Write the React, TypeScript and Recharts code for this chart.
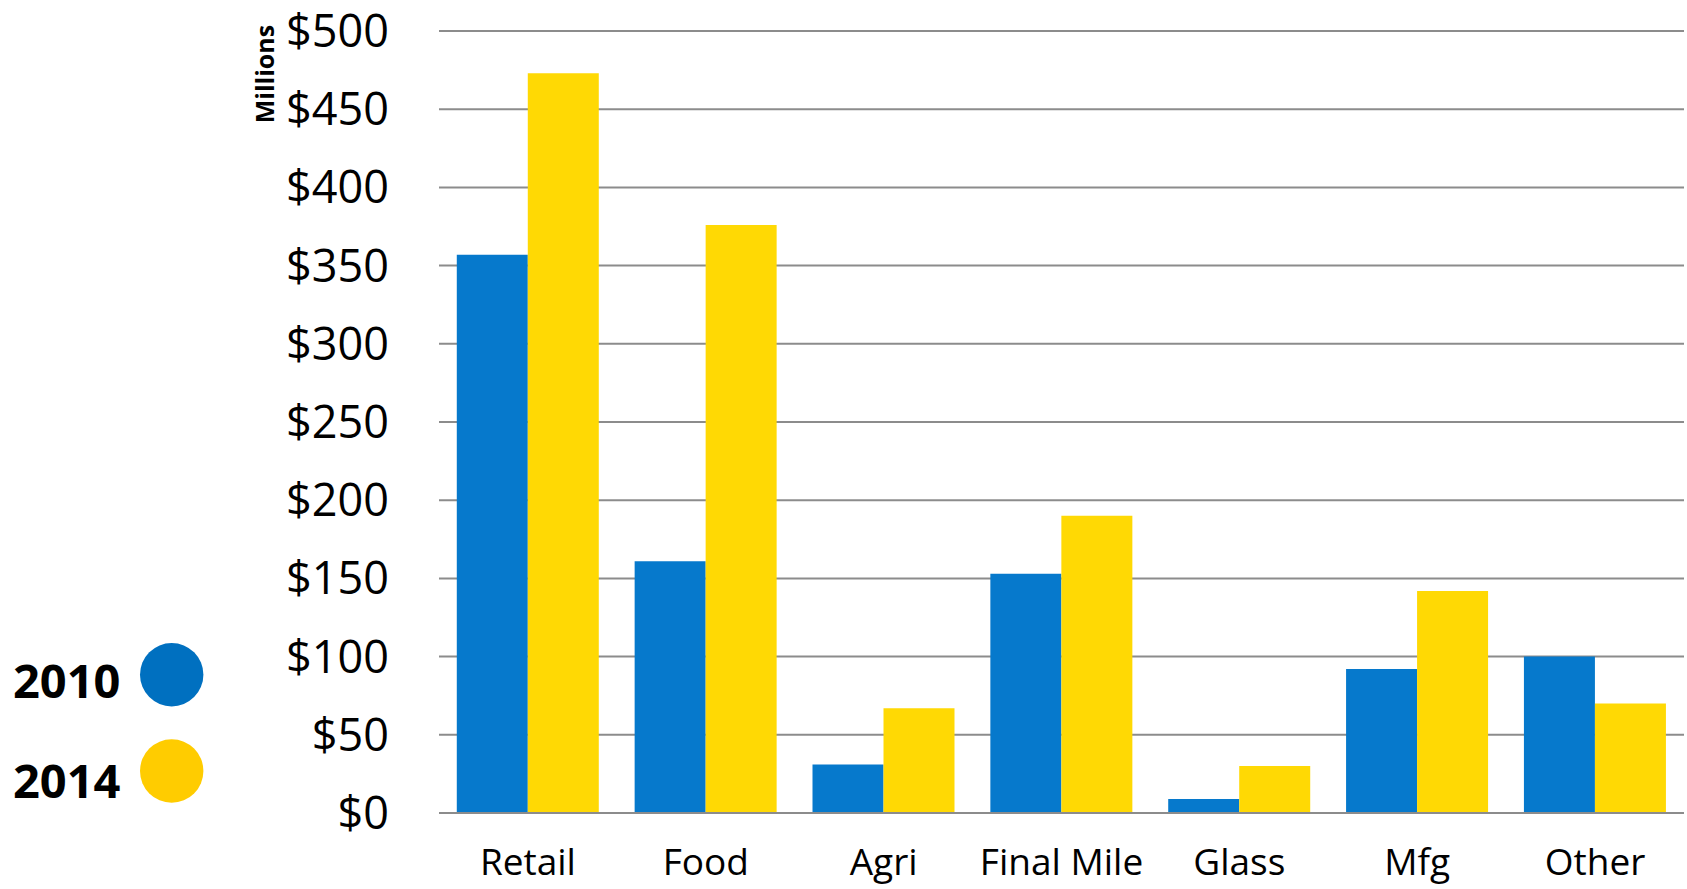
import React from 'react'
import {
  BarChart,
  Bar,
  XAxis,
  YAxis,
  CartesianGrid,
  Legend
} from 'recharts'

const categories = ['Retail', 'Food', 'Agri', 'Final Mile', 'Glass', 'Mfg', 'Other']
const values2010 = [357, 161, 31, 153, 9, 92, 100]
const values2014 = [473, 376, 67, 190, 30, 142, 70]
const yTicks = [0, 50, 100, 150, 200, 250, 300, 350, 400, 450, 500]

const BLUE = '#0679CC'
const YELLOW = '#FFD904'
const GRID = '#8C8C8C'
const FONT = '"Open Sans", "Liberation Sans", sans-serif'

const data = categories.map((name, i) => ({
  name,
  y2010: values2010[i],
  y2014: values2014[i]
}))

const MillionsLabel = (props: any) => {
  const vb = props.viewBox || { x: 0, y: 0 }
  const cx = vb.x + 264
  const cy = vb.y + 43
  return (
    <text
      x={cx}
      y={cy}
      transform={`rotate(-90 ${cx} ${cy})`}
      textAnchor="middle"
      dominantBaseline="central"
      fontFamily={FONT}
      fontWeight={700}
      fontSize={25}
      fill="#000"
    >
      Millions
    </text>
  )
}

// legend sits at the left, circles to the right of the year
const YearLegend = () => (
  <svg width={210} height={180} style={{ display: 'block' }}>
    {[
      { label: '2010', color: '#0070C0', ty: 57.5, cy: 34.7 },
      { label: '2014', color: '#FFCC00', ty: 158.3, cy: 131 }
    ].map(item => (
      <g key={item.label}>
        <text x={13} y={item.ty} fontFamily={FONT} fontWeight={700} fontSize={47} fill="#000">
          {item.label}
        </text>
        <circle cx={171.7} cy={item.cy} r={31.7} fill={item.color} />
      </g>
    ))}
  </svg>
)

export default function App() {
  return (
    <div style={{ width: 1687, height: 889, background: '#fff' }}>
      <style>{'body{margin:0}'}</style>
      <BarChart
        width={1687}
        height={889}
        data={data}
        margin={{ top: 31, right: 3, bottom: 0, left: 0 }}
        barCategoryGap="10%"
        barGap={0}
      >
        <CartesianGrid vertical={false} stroke={GRID} strokeWidth={2} />
        <XAxis
          dataKey="name"
          height={76}
          tickSize={0}
          tickMargin={36}
          tickLine={false}
          axisLine={{ stroke: GRID, strokeWidth: 2 }}
          tick={{ fill: '#000', fontSize: 37, fontFamily: FONT }}
          interval={0}
        />
        <YAxis
          width={439}
          domain={[0, 500]}
          ticks={yTicks}
          tickSize={0}
          tickMargin={50}
          tickLine={false}
          axisLine={false}
          tickFormatter={(v: number) => `$${v}`}
          tick={{ fill: '#000', fontSize: 45, fontFamily: FONT }}
          label={MillionsLabel}
        />
        {/* centered + middle keeps the legend from reserving plot space */}
        <Legend
          layout="horizontal"
          verticalAlign="middle"
          align="center"
          content={YearLegend}
          wrapperStyle={{ left: 0, top: 640, width: 210, height: 180 }}
        />
        <Bar dataKey="y2010" name="2010" fill={BLUE} isAnimationActive={false} />
        <Bar dataKey="y2014" name="2014" fill={YELLOW} isAnimationActive={false} />
      </BarChart>
    </div>
  )
}
